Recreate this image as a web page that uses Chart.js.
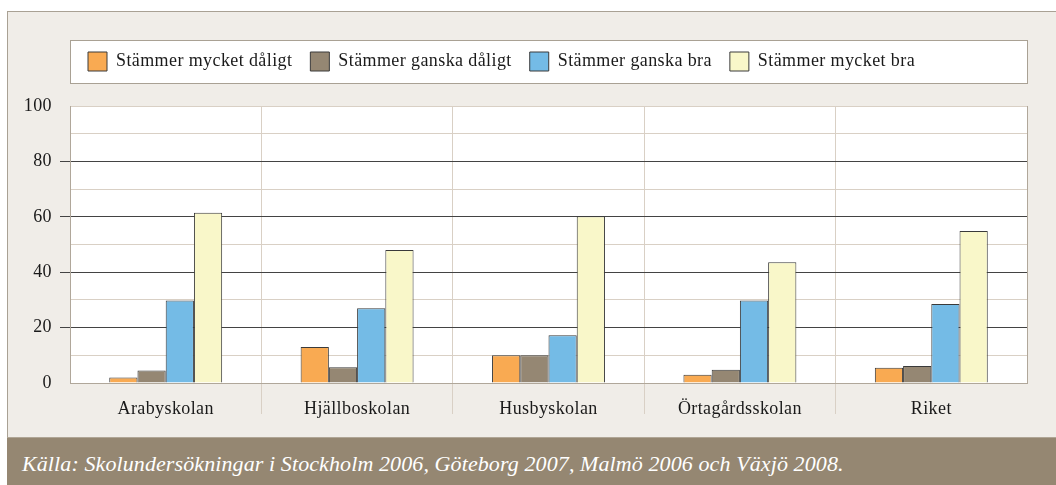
<!DOCTYPE html>
<html><head><meta charset="utf-8">
<script src="https://cdn.jsdelivr.net/npm/chart.js@4.4.0/dist/chart.umd.min.js"></script>
<style>
html,body{margin:0;padding:0;background:#fff;width:1056px;height:485px;overflow:hidden;}
#panel{position:absolute;left:7px;top:11px;width:1049px;height:426px;background:#f0ede8;border-top:1px solid #a9a194;border-left:1px solid #a9a194;box-sizing:border-box;}
#footer{position:absolute;left:7px;top:437px;width:1049px;height:48px;background:#958772;border-top:1px solid #b0a696;box-sizing:border-box;}
#source{position:absolute;left:22px;top:451px;font:italic 22px "Liberation Serif","Times New Roman",serif;letter-spacing:0.1px;color:#fff;line-height:26px;white-space:nowrap;}
canvas{position:absolute;left:0;top:0;}
</style></head><body>
<div id="panel"></div><div id="footer"></div>
<div id="source">Källa: Skolundersökningar i Stockholm 2006, Göteborg 2007, Malmö 2006 och Växjö 2008.</div>
<canvas id="c" width="1056" height="437"></canvas>
<script>
const categories = ['Arabyskolan', 'Hjällboskolan', 'Husbyskolan', 'Örtagårdsskolan', 'Riket'];
const seriesNames = ['Stämmer mycket dåligt', 'Stämmer ganska dåligt', 'Stämmer ganska bra', 'Stämmer mycket bra'];
const mycketDaligt = [2, 13, 10, 3, 5.5];
const ganskaDaligt = [4.5, 5.7, 10, 4.8, 6.1];
const ganskaBra = [29.8, 27, 17.2, 29.8, 28.5];
const mycketBra = [61.5, 48, 60.2, 43.6, 54.9];
const yTickLabels = [0, 20, 40, 60, 80, 100];
const seriesColors = ['#f9aa52', '#958773', '#74bbe6', '#f9f7c9'];

const MAJOR = '#434343', MINOR = '#d9d0c5', FRAME = '#b0a79a', NONE = 'rgba(0,0,0,0)';
const TEXT = '#1a1a1a';

Chart.defaults.font.family = '"Liberation Serif", "Times New Roman", serif';
Chart.defaults.font.size = 18;
Chart.defaults.color = TEXT;

const decor = {
  id: 'decor',
  afterInit(chart) {
    const lg = chart.legend;
    const fit = lg.fit;
    lg.fit = function () { fit.call(this); this.height += 25; };
  },
  beforeUpdate(chart) { chart.ctx.letterSpacing = '0.4px'; },
  beforeDraw(chart) {
    const {ctx, chartArea: a, legend: lg} = chart;
    ctx.save();
    ctx.fillStyle = '#fff';
    ctx.fillRect(a.left, a.top, a.right - a.left, a.bottom - a.top);
    const t = Math.round(lg.top + 6) + 0.5, b = Math.round(lg.top + 49) + 0.5;
    const l = Math.round(a.left) + 0.5, r = Math.round(a.right) + 0.5;
    ctx.fillRect(l, t, r - l, b - t);
    ctx.strokeStyle = '#a9a194'; ctx.lineWidth = 1;
    ctx.strokeRect(l, t, r - l, b - t);
    ctx.strokeStyle = FRAME;
    ctx.beginPath(); ctx.moveTo(r, a.top); ctx.lineTo(r, a.bottom); ctx.stroke();
    ctx.restore();
  }
};

const datasets = [mycketDaligt, ganskaDaligt, ganskaBra, mycketBra].map((d, i) => ({
  label: seriesNames[i],
  data: d,
  backgroundColor: seriesColors[i],
  borderColor: '#3a3a3a',
  borderWidth: 1,
  barPercentage: 1,
  categoryPercentage: 0.59
}));

new Chart(document.getElementById('c'), {
  type: 'bar',
  data: { labels: categories, datasets },
  options: {
    responsive: false,
    animation: false,
    devicePixelRatio: 1,
    layout: { padding: { left: 0, right: 29, top: 34, bottom: 0 } },
    plugins: {
      legend: {
        position: 'top', align: 'start', fullSize: false,
        labels: { boxWidth: 19, boxHeight: 19, padding: 18, color: TEXT, font: { size: 18 } }
      },
      tooltip: { enabled: false }
    },
    scales: {
      x: {
        offset: true,
        grid: {
          offset: true, tickLength: 31, lineWidth: 1,
          color: c => (c.type === 'tick' && c.index > 0) ? MINOR : NONE
        },
        border: { display: true, color: FRAME },
        ticks: { padding: -16, maxRotation: 0, autoSkip: false, color: TEXT, font: { size: 18 } },
        afterFit(s) { s.height = 54; }
      },
      y: {
        min: 0, max: 100,
        ticks: {
          stepSize: 10, padding: 8, color: TEXT, font: { size: 18 },
          callback: v => yTickLabels.includes(v) ? v : ''
        },
        grid: {
          tickLength: 10, lineWidth: 1,
          color: c => {
            const v = c.tick ? c.tick.value : null;
            if (v === 0 || v === null) return NONE;
            return (v % 20 === 0 && v !== 100) ? MAJOR : MINOR;
          },
          tickColor: c => {
            const v = c.tick ? c.tick.value : null;
            return (v !== null && v % 20 === 0 && v > 0 && v < 100) ? MAJOR : NONE;
          }
        },
        border: { display: true, color: FRAME },
        afterFit(s) { s.width = 70; }
      }
    }
  },
  plugins: [decor]
});
</script>
</body></html>
